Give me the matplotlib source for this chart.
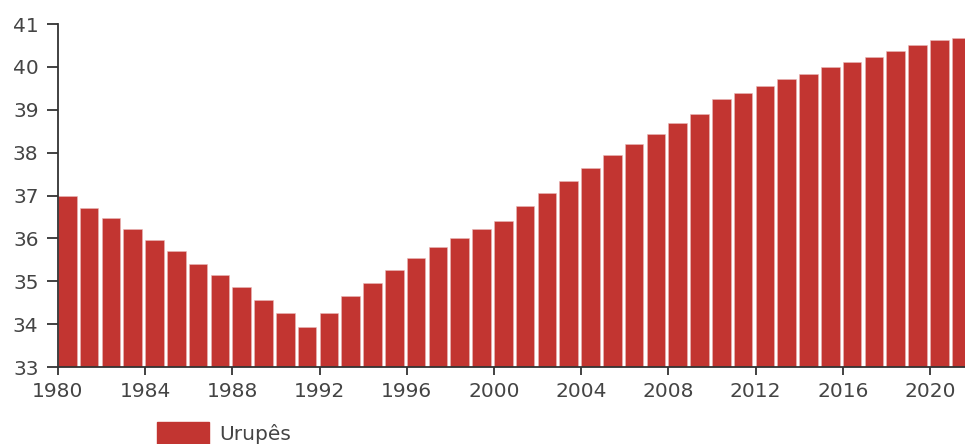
import matplotlib
matplotlib.use("Agg")
import matplotlib.pyplot as plt
from matplotlib.patches import Patch

# Urupês, values by year
YEARS = list(range(1980, 2022))
VALUES = [
    37.0, 36.72, 36.48, 36.22, 35.96, 35.70, 35.41, 35.14, 34.86, 34.56,
    34.25, 33.94, 34.27, 34.65, 34.96, 35.26, 35.55, 35.79, 36.02, 36.21,
    36.41, 36.75, 37.06, 37.33, 37.64, 37.94, 38.21, 38.44, 38.68, 38.90,
    39.25, 39.40, 39.55, 39.71, 39.83, 39.99, 40.12, 40.24, 40.37, 40.50,
    40.63, 40.67,
]
SERIES = "Urupês"
X_TICKS = list(range(1980, 2021, 4))
Y_TICKS = list(range(33, 42))

RED = "#c23531"
AXIS = "#333333"
TEXT = "#444444"

plt.rcParams["font.family"] = ["DejaVu Sans"]

W, H = 965, 444
fig = plt.figure(figsize=(W / 100, H / 100), dpi=100)
ax = fig.add_axes([58 / W, 77 / H, (W - 58) / W, 343 / H])

ax.bar(YEARS, VALUES, width=0.85, align="edge", color=RED,
       edgecolor="#e8b9b8", linewidth=0.4)

ax.set_xlim(1980, 1980 + (W - 58) / 21.8)
ax.set_ylim(33, 41)
ax.set_xticks(X_TICKS)
ax.set_yticks(Y_TICKS)

for side in ("top", "right"):
    ax.spines[side].set_visible(False)
for side in ("left", "bottom"):
    ax.spines[side].set_color(AXIS)
    ax.spines[side].set_linewidth(1.3)

ax.tick_params(axis="y", length=8, width=1.3, color=AXIS, labelcolor=TEXT,
               labelsize=14.5, pad=6)
ax.tick_params(axis="x", length=6, width=1.3, color=AXIS, labelcolor=TEXT,
               labelsize=14.5, pad=5)

fig.legend(
    handles=[Patch(facecolor=RED, edgecolor=RED, label=SERIES)],
    loc="upper left",
    bbox_to_anchor=(141 / W, 1 - 406 / H),
    frameon=False,
    fontsize=14.5,
    labelcolor=TEXT,
    handlelength=2.6,
    handleheight=1.4,
    handletextpad=0.5,
    borderpad=0.3,
)

fig.savefig("out.png", dpi=100)
